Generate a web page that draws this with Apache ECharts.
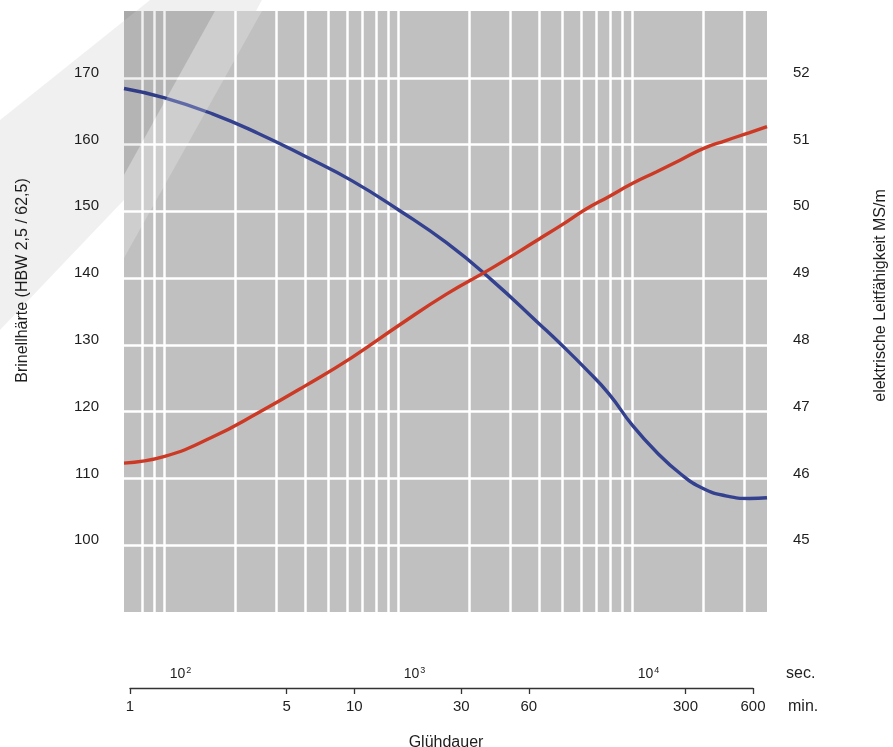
<!DOCTYPE html>
<html>
<head>
<meta charset="utf-8">
<script src="https://cdn.jsdelivr.net/npm/echarts@6/dist/echarts.min.js"></script>
<style>
  html, body { margin: 0; padding: 0; background: #fff; }
  #chart { width: 893px; height: 747px; }
</style>
</head>
<body>
<div id="chart"></div>
<script>
// Glühdauer in Sekunden (log-Achse)
const seconds = [67, 100, 160, 250, 400, 630, 1000, 1600, 2500, 4000, 5000, 6300, 7900, 10000, 12600, 16000, 20000, 25000, 31600, 37500];
// Brinellhärte HBW 2,5/62,5 (linke Achse)
const hardness = [168.4, 167.0, 164.6, 161.7, 158.2, 154.6, 150.2, 145.3, 139.7, 133.1, 129.9, 126.4, 122.7, 117.9, 114.0, 110.7, 108.5, 107.4, 107.0, 107.1];
// elektrische Leitfähigkeit MS/m (rechte Achse)
const conductivity = [46.23, 46.33, 46.62, 46.98, 47.39, 47.81, 48.29, 48.76, 49.15, 49.59, 49.80, 50.03, 50.22, 50.42, 50.59, 50.77, 50.94, 51.06, 51.18, 51.27];

const gridSeconds = [80, 90, 100, 200, 300, 400, 500, 600, 700, 800, 900, 1000, 2000, 3000, 4000, 5000, 6000, 7000, 8000, 9000, 10000, 20000, 30000];
const leftTicks = [100, 110, 120, 130, 140, 150, 160, 170];
const rightTicks = [45, 46, 47, 48, 49, 50, 51, 52];
const secTicks = [100, 1000, 10000];
const minTicks = [1, 5, 10, 30, 60, 300, 600];

const font = 'Liberation Sans, Arial, sans-serif';
const textColor = '#1e1e1e';

const chart = echarts.init(document.getElementById('chart'));

const option = {
  backgroundColor: '#fff',
  animation: false,
  textStyle: { fontFamily: font },
  grid: [
    { left: 124, right: 126, top: 11, bottom: 135, show: true, backgroundColor: '#c0c0c0', borderWidth: 0, outerBoundsMode: 'none', containLabel: false },
    { left: 130, right: 140, top: 687, height: 1, outerBoundsMode: 'none', containLabel: false },
    { left: 124, right: 126, top: 664, height: 1, outerBoundsMode: 'none', containLabel: false }
  ],
  xAxis: [
    {
      type: 'log', gridIndex: 0, min: 67, max: 37500,
      axisLine: { show: false },
      axisTick: { show: false, customValues: gridSeconds },
      axisLabel: { show: false },
      splitLine: { show: true, lineStyle: { color: '#fff', width: 2.5 } }
    },
    {
      type: 'log', gridIndex: 1, min: 1, max: 600,
      axisLine: { show: true, lineStyle: { color: '#333', width: 1.3 } },
      axisTick: { show: true, length: 6, customValues: minTicks, lineStyle: { color: '#333', width: 1.3 } },
      axisLabel: { customValues: minTicks, margin: 11, fontSize: 15, color: textColor, fontFamily: font },
      splitLine: { show: false },
      name: 'Glühdauer', nameLocation: 'middle', nameGap: 47,
      nameTextStyle: { fontSize: 16, color: textColor, fontFamily: font, padding: [0, 0, 0, 9] }
    },
    {
      type: 'log', gridIndex: 2, min: 67, max: 37500,
      axisLine: { show: false },
      axisTick: { show: false, customValues: secTicks },
      splitLine: { show: false },
      axisLabel: {
        customValues: secTicks, margin: 1, align: 'left', padding: [0, 0, 0, 5],
        color: textColor, fontFamily: font,
        formatter: function (v) {
          return '{b|10}{s|' + Math.round(Math.log10(v)) + '}';
        },
        rich: {
          b: { fontSize: 14, color: textColor, fontFamily: font },
          s: { fontSize: 9, color: textColor, fontFamily: font, padding: [0, 0, 7, 1] }
        }
      }
    }
  ],
  yAxis: [
    {
      type: 'value', gridIndex: 0, min: 90, max: 180,
      axisLine: { show: false },
      axisTick: { show: false, customValues: leftTicks },
      axisLabel: { customValues: leftTicks, margin: 25, fontSize: 15, color: textColor, verticalAlign: 'bottom', lineHeight: 10 },
      splitLine: { show: true, lineStyle: { color: '#fff', width: 2.5 } },
      name: 'Brinellhärte (HBW 2,5 / 62,5)', nameLocation: 'middle', nameGap: 93, nameRotate: 90,
      nameTextStyle: { fontSize: 16, color: textColor, padding: [0, 0, 0, 62] }
    },
    {
      type: 'value', gridIndex: 0, min: 44, max: 53, position: 'right',
      axisLine: { show: false },
      axisTick: { show: false, customValues: rightTicks },
      axisLabel: { customValues: rightTicks, margin: 26, fontSize: 15, color: textColor, verticalAlign: 'bottom', lineHeight: 10 },
      splitLine: { show: false },
      name: 'elektrische Leitfähigkeit MS/m', nameLocation: 'middle', nameGap: 106, nameRotate: 90,
      nameTextStyle: { fontSize: 16, color: textColor, padding: [0, 0, 0, 32] }
    },
    { type: 'value', gridIndex: 1, show: false },
    { type: 'value', gridIndex: 2, show: false }
  ],
  graphic: [
    { type: 'text', left: 786, top: 666, style: { text: 'sec.', fontSize: 16, fill: textColor, fontFamily: font } },
    { type: 'text', left: 788, top: 699, style: { text: 'min.', fontSize: 16, fill: textColor, fontFamily: font } },
    // Wasserzeichen oben links (grob angedeutet)
    { type: 'polygon', z: 100, silent: true,
      shape: { points: [[124, 11], [215, 11], [124, 175]] },
      style: { fill: 'rgba(0,0,0,0.06)' } },
    { type: 'polygon', z: 100, silent: true,
      shape: { points: [[215, 11], [262, 11], [124, 258], [124, 175]] },
      style: { fill: 'rgba(255,255,255,0.22)' } },
    { type: 'polygon', z: 100, silent: true,
      shape: { points: [[150, 0], [262, 0], [256, 11], [124, 11], [124, 200], [0, 330], [0, 120]] },
      style: { fill: 'rgba(0,0,0,0.06)' } }
  ],
  series: [
    {
      name: 'Brinellhärte', type: 'line', xAxisIndex: 0, yAxisIndex: 0,
      data: seconds.map((s, i) => [s, hardness[i]]),
      smooth: 0.5, showSymbol: false, z: 5,
      lineStyle: { color: '#33418f', width: 3.4 }
    },
    {
      name: 'Leitfähigkeit', type: 'line', xAxisIndex: 0, yAxisIndex: 1,
      data: seconds.map((s, i) => [s, conductivity[i]]),
      smooth: 0.5, showSymbol: false, z: 5,
      lineStyle: { color: '#cc3a26', width: 3.4 }
    }
  ]
};

chart.setOption(option);
window.addEventListener('resize', () => {
  chart.resize();
});
</script>
</body>
</html>
